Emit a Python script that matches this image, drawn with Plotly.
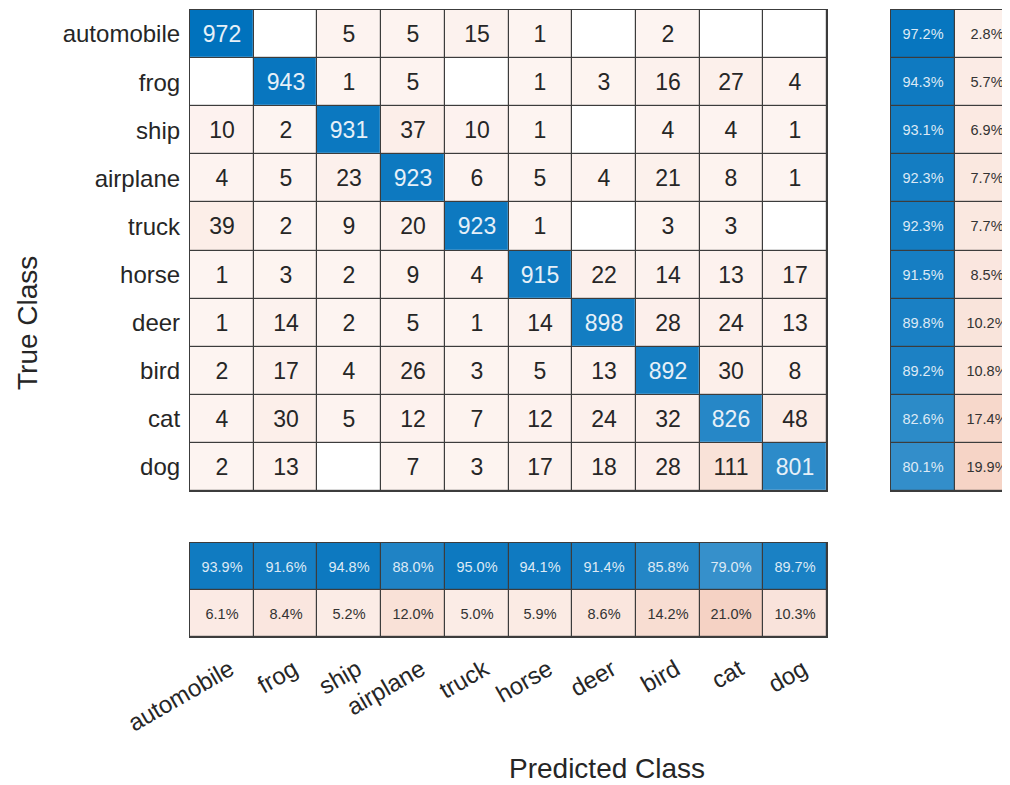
import plotly.graph_objects as go

classes = ['automobile', 'frog', 'ship', 'airplane', 'truck', 'horse', 'deer', 'bird', 'cat', 'dog']

# rows: true class, columns: predicted class
counts = [
    [972, 0, 5, 5, 15, 1, 0, 2, 0, 0],
    [0, 943, 1, 5, 0, 1, 3, 16, 27, 4],
    [10, 2, 931, 37, 10, 1, 0, 4, 4, 1],
    [4, 5, 23, 923, 6, 5, 4, 21, 8, 1],
    [39, 2, 9, 20, 923, 1, 0, 3, 3, 0],
    [1, 3, 2, 9, 4, 915, 22, 14, 13, 17],
    [1, 14, 2, 5, 1, 14, 898, 28, 24, 13],
    [2, 17, 4, 26, 3, 5, 13, 892, 30, 8],
    [4, 30, 5, 12, 7, 12, 24, 32, 826, 48],
    [2, 13, 0, 7, 3, 17, 18, 28, 111, 801],
]

row_correct = [97.2, 94.3, 93.1, 92.3, 92.3, 91.5, 89.8, 89.2, 82.6, 80.1]
row_wrong = [2.8, 5.7, 6.9, 7.7, 7.7, 8.5, 10.2, 10.8, 17.4, 19.9]
col_correct = [93.9, 91.6, 94.8, 88.0, 95.0, 94.1, 91.4, 85.8, 79.0, 89.7]
col_wrong = [6.1, 8.4, 5.2, 12.0, 5.0, 5.9, 8.6, 14.2, 21.0, 10.3]

BLUE_CS = [[0, '#ffffff'], [1, '#0072bd']]
RED_CS = [[0, '#ffffff'], [0.0001, '#fdf4f1'], [1, '#d95319']]
GRID = '#3c3c3c'
TXT = '#262626'
FONT = 'Liberation Sans, Arial, sans-serif'
NUM_SIZE = 23
SUM_SIZE = 14.5
TICK_SIZE = 24
TITLE_SIZE = 28

n = len(classes)
vmax = max(max(r) for r in counts)
idx = list(range(n))

diag_z = [[counts[i][j] if i == j else None for j in range(n)] for i in range(n)]
diag_t = [[str(counts[i][j]) if i == j else '' for j in range(n)] for i in range(n)]
off_z = [[0 if i == j else counts[i][j] for j in range(n)] for i in range(n)]
off_t = [['' if (i == j or counts[i][j] == 0) else str(counts[i][j]) for j in range(n)] for i in range(n)]

fig = go.Figure()

# main matrix
fig.add_trace(go.Heatmap(z=off_z, x=idx, y=idx, text=off_t, texttemplate='%{text}',
                         textfont=dict(size=NUM_SIZE, color=TXT, family=FONT),
                         colorscale=RED_CS, zmin=0, zmax=vmax, showscale=False,
                         xgap=1.2, ygap=1.2, hoverinfo='skip', xaxis='x', yaxis='y'))
fig.add_trace(go.Heatmap(z=diag_z, x=idx, y=idx, text=diag_t, texttemplate='%{text}',
                         textfont=dict(size=NUM_SIZE, color='#e6f0f8', family=FONT),
                         colorscale=BLUE_CS, zmin=0, zmax=vmax, showscale=False,
                         xgap=1.2, ygap=1.2, hoverinfo='skip', xaxis='x', yaxis='y'))

# right summary (row-normalized)
fig.add_trace(go.Heatmap(z=[[v, None] for v in row_correct], x=[0, 1], y=idx,
                         text=[[f'{v:.1f}%', ''] for v in row_correct], texttemplate='%{text}',
                         textfont=dict(size=SUM_SIZE, color='#dce9f5', family=FONT),
                         colorscale=BLUE_CS, zmin=0, zmax=100, showscale=False,
                         xgap=1.2, ygap=1.2, hoverinfo='skip', xaxis='x2', yaxis='y2'))
fig.add_trace(go.Heatmap(z=[[None, v] for v in row_wrong], x=[0, 1], y=idx,
                         text=[['', f'{v:.1f}%'] for v in row_wrong], texttemplate='%{text}',
                         textfont=dict(size=SUM_SIZE, color='#333333', family=FONT),
                         colorscale=RED_CS, zmin=0, zmax=100, showscale=False,
                         xgap=1.2, ygap=1.2, hoverinfo='skip', xaxis='x2', yaxis='y2'))

# bottom summary (column-normalized)
fig.add_trace(go.Heatmap(z=[col_correct, [None] * n], x=idx, y=[0, 1],
                         text=[[f'{v:.1f}%' for v in col_correct], [''] * n], texttemplate='%{text}',
                         textfont=dict(size=SUM_SIZE, color='#dce9f5', family=FONT),
                         colorscale=BLUE_CS, zmin=0, zmax=100, showscale=False,
                         xgap=1.2, ygap=1.2, hoverinfo='skip', xaxis='x3', yaxis='y3'))
fig.add_trace(go.Heatmap(z=[[None] * n, col_wrong], x=idx, y=[0, 1],
                         text=[[''] * n, [f'{v:.1f}%' for v in col_wrong]], texttemplate='%{text}',
                         textfont=dict(size=SUM_SIZE, color='#333333', family=FONT),
                         colorscale=RED_CS, zmin=0, zmax=100, showscale=False,
                         xgap=1.2, ygap=1.2, hoverinfo='skip', xaxis='x3', yaxis='y3'))

W, H = 1010, 785
OFF = 8  # page body margin
def px_x(p):
    return (p - OFF) / W
def px_y(p):
    return 1 - (p - OFF) / H

main_x = [px_x(190), px_x(827)]
main_y = [px_y(491), px_y(10)]
cell_w = (827 - 190) / n
right_x = [px_x(891), 1.0]
right_range_hi = -0.5 + (W - (891 - OFF)) / cell_w
bot_y = [px_y(637), px_y(543)]

ax_common = dict(showgrid=False, zeroline=False, showline=True, linecolor=GRID, linewidth=1.2,
                 ticks='', fixedrange=True, automargin=False)

fig.update_layout(
    width=W, height=H,
    margin=dict(l=0, r=0, t=0, b=0, pad=0),
    paper_bgcolor='white', plot_bgcolor=GRID,
    font=dict(family=FONT, color=TXT),
    xaxis=dict(domain=main_x, range=[-0.5, n - 0.5], showticklabels=False, mirror=True, **ax_common),
    yaxis=dict(domain=main_y, range=[n - 0.5, -0.5], tickmode='array', tickvals=idx, ticktext=classes,
               tickfont=dict(size=TICK_SIZE, color=TXT), ticklabelstandoff=4, mirror=True, **ax_common),
    xaxis2=dict(domain=right_x, range=[-0.5, right_range_hi], showticklabels=False, mirror=True,
                anchor='y2', **ax_common),
    yaxis2=dict(domain=main_y, range=[n - 0.5, -0.5], showticklabels=False, mirror=False,
                anchor='x2', **ax_common),
    xaxis3=dict(domain=main_x, range=[-0.5, n - 0.5], tickmode='array', tickvals=idx, ticktext=classes,
                tickangle=-30, tickfont=dict(size=TICK_SIZE, color=TXT), ticklabelstandoff=8,
                ticklabelshift=8, mirror=True, anchor='y3', **ax_common),
    yaxis3=dict(domain=bot_y, range=[1.5, -0.5], showticklabels=False, mirror=True,
                anchor='x3', **ax_common),
    annotations=[
        dict(text='Predicted Class', x=px_x(607), y=px_y(768), xref='paper', yref='paper',
             showarrow=False, font=dict(size=TITLE_SIZE, color=TXT), xanchor='center', yanchor='middle'),
        dict(text='True Class', x=px_x(27), y=px_y(323), xref='paper', yref='paper',
             showarrow=False, font=dict(size=TITLE_SIZE, color=TXT), textangle=-90,
             xanchor='center', yanchor='middle'),
    ],
)

fig.write_html('out.html')
